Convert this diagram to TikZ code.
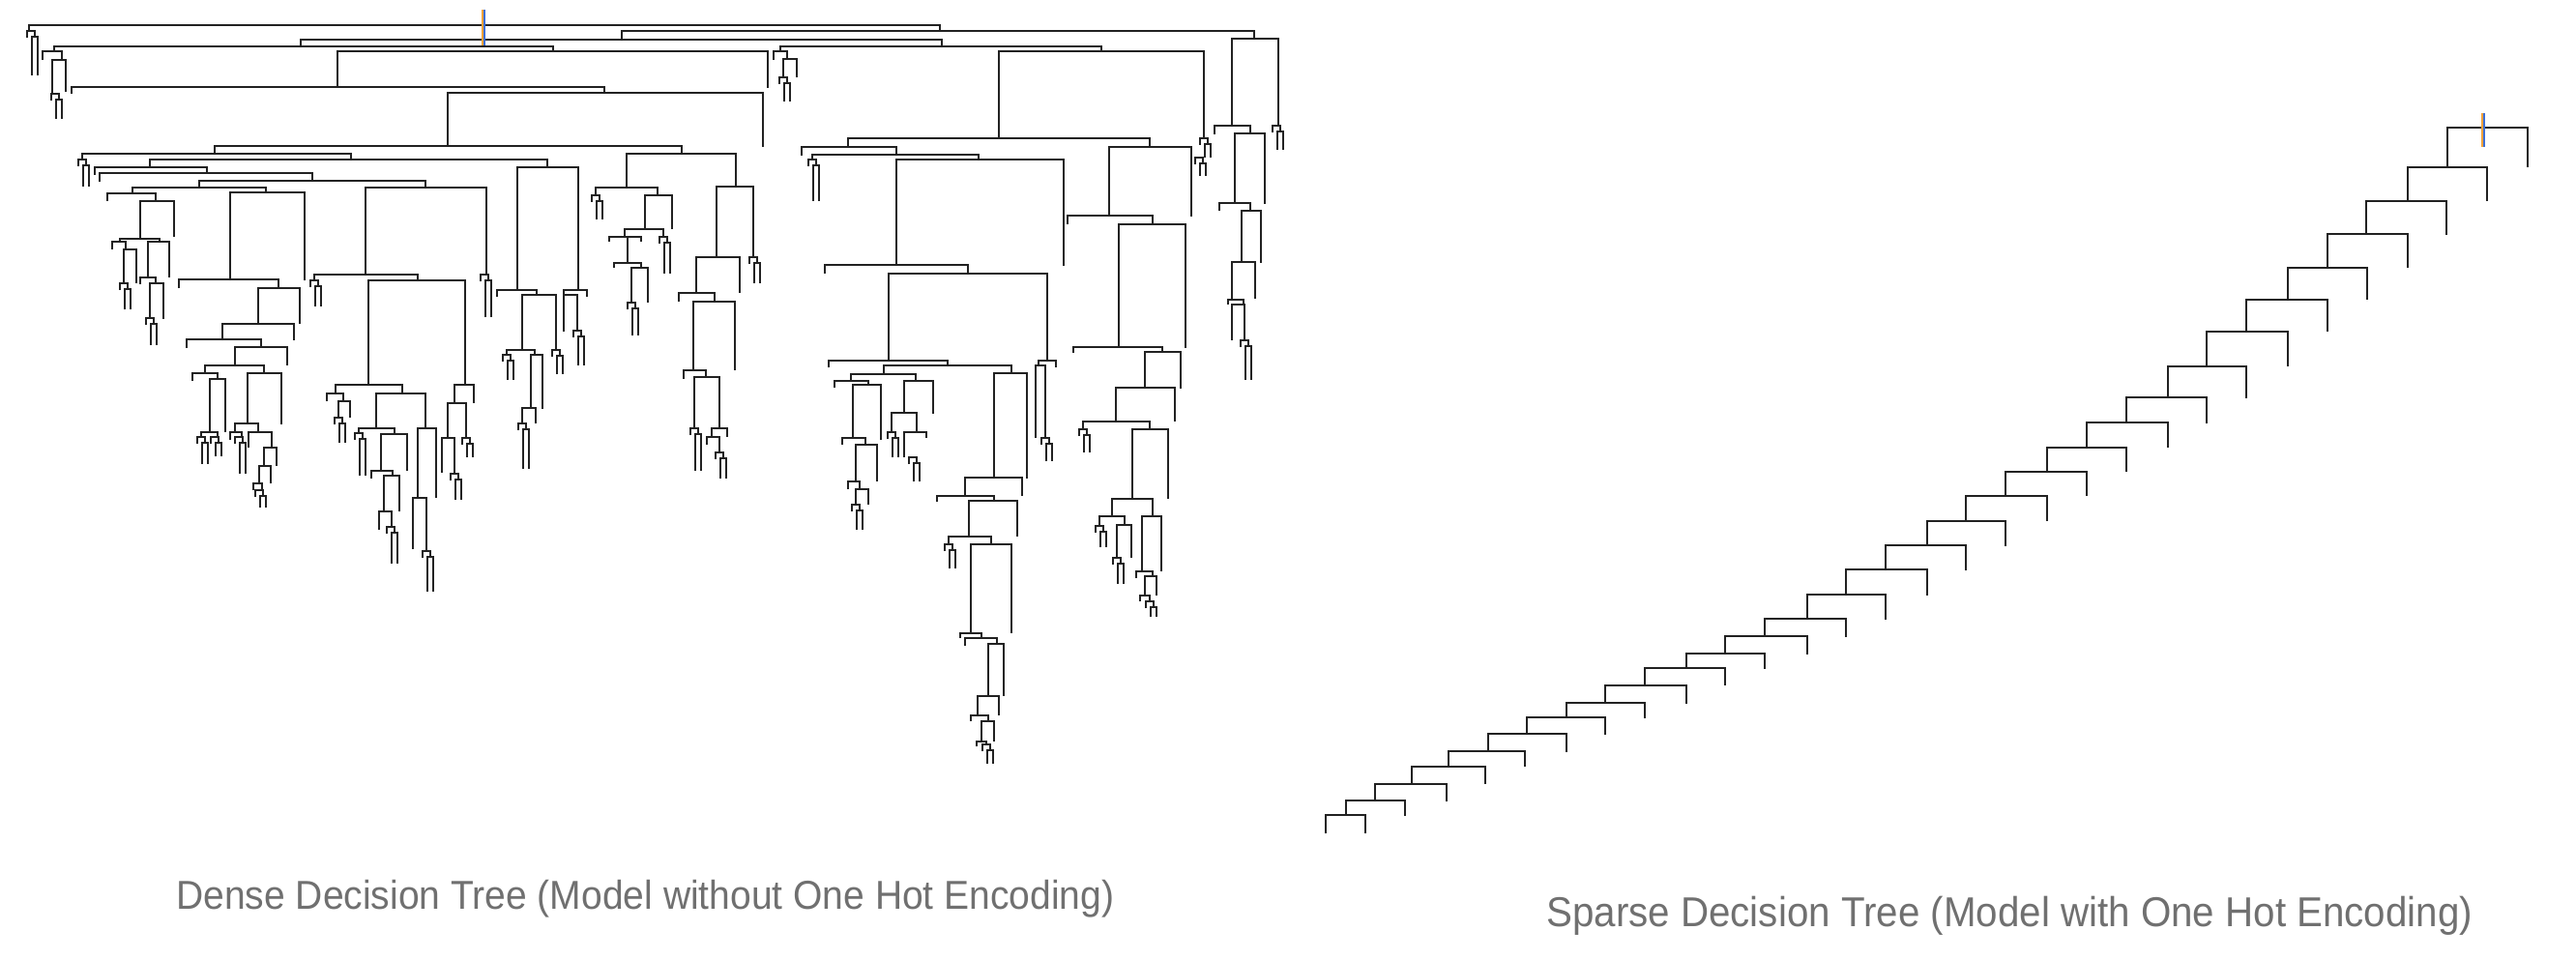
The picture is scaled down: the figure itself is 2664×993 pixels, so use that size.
\documentclass[tikz,border=0pt]{standalone}
\usepackage{fontspec}
\usepackage{graphicx}
\setmainfont{Liberation Sans}
\definecolor{grigio}{HTML}{707070}
\definecolor{tratto}{HTML}{222222}
\definecolor{arancio}{HTML}{F2A33A}
\definecolor{azzurro}{HTML}{3B6FD6}

% staffa: xsinistra, xdestra, y barra, fondo gamba sx, fondo gamba dx
\newcommand{\brk}[5]{\draw[ramo] (#1,#4) |- (#2,#3) -- (#2,#5);}
% forchetta piccola
\newcommand{\twig}[3]{\draw[ramo] (#1-4,#2+7) |- (#1+4,#2) -- (#1+4,#2+6);
  \draw[ramo] (#1+1,#3) |- (#1+7,#2+6) -- (#1+7,#3);}

\tikzset{ramo/.style={draw=tratto, line width=1.55pt},
  radice/.style={line width=1pt},
  didascalia/.style={text=grigio, inner sep=0pt, anchor=base west}}

\begin{document}
\begin{tikzpicture}[x=0.02cm, y=-0.02cm]
    \useasboundingbox (0,0) rectangle (2664,993);

    % albero denso: livelli alti
    \brk{30}{972}{26}{32}{32}
    \brk{643}{1297}{32}{41}{40}
    \brk{311}{974}{41}{48}{48}
    \brk{56}{572}{48}{53}{53}
    \brk{349}{794}{53}{90}{91}
    \brk{807}{1139}{48}{53}{53}
    \brk{1033}{1245}{53}{143}{143}
    \brk{74}{625}{90}{97}{96}
    \brk{463}{789}{96}{151}{152}
    \brk{222}{705}{151}{159}{159}

    % angolo sinistro
    \twig{32}{32}{78}
    \brk{44}{64}{53}{62}{62}
    \brk{54}{68}{62}{97}{95}
    \twig{57}{97}{123}

    % ramo sinistro
    \brk{85}{363}{159}{165}{165}
    \twig{85}{165}{193}
    \brk{155}{566}{165}{173}{173}
    \brk{98}{214}{173}{181}{179}
    \brk{103}{323}{179}{188}{187}
    \brk{206}{440}{187}{194}{194}
    \brk{137}{275}{194}{200}{199}
    \brk{111}{161}{200}{208}{208}
    \brk{145}{180}{208}{247}{245}
    \brk{124}{165}{247}{250}{250}
    \brk{116}{130}{250}{258}{258}
    \brk{128}{141}{258}{293}{293}
    \twig{128}{293}{320}
    \brk{153}{175}{250}{287}{287}
    \brk{145}{161}{287}{294}{293}
    \brk{155}{169}{293}{329}{330}
    \twig{155}{329}{357}

    \brk{238}{315}{199}{289}{290}
    \brk{185}{288}{289}{298}{298}
    \brk{267}{310}{298}{335}{335}
    \brk{230}{304}{335}{351}{352}
    \brk{193}{270}{351}{360}{359}
    \brk{243}{297}{359}{378}{378}
    \brk{212}{273}{378}{386}{386}
    \brk{199}{225}{386}{394}{392}
    \brk{217}{233}{392}{447}{447}
    \brk{208}{225}{447}{452}{452}
    \twig{208}{452}{480}
    \twig{222}{452}{472}
    \brk{256}{291}{386}{438}{439}
    \brk{243}{267}{438}{447}{447}
    \brk{238}{250}{447}{455}{452}
    \twig{247}{452}{490}
    \brk{257}{281}{447}{463}{463}
    \brk{273}{286}{463}{482}{482}
    \brk{268}{280}{482}{500}{500}
    \brk{262}{271}{500}{507}{507}
    \twig{268}{507}{525}

    \brk{378}{503}{194}{284}{284}
    \twig{501}{284}{328}
    \brk{325}{432}{284}{290}{290}
    \twig{325}{290}{317}
    \brk{381}{481}{290}{398}{398}
    \brk{347}{416}{398}{407}{407}
    \brk{338}{355}{407}{415}{415}
    \brk{350}{362}{415}{432}{432}
    \twig{350}{432}{458}
    \brk{389}{440}{407}{443}{443}
    \brk{371}{408}{443}{448}{449}
    \twig{371}{448}{492}
    \brk{394}{421}{449}{487}{487}
    \brk{384}{406}{487}{495}{492}
    \brk{397}{413}{492}{529}{529}
    \brk{392}{405}{529}{548}{545}
    \twig{404}{545}{583}
    \brk{432}{451}{443}{515}{515}
    \brk{427}{441}{515}{568}{570}
    \twig{441}{570}{612}
    \brk{470}{490}{398}{417}{417}
    \brk{463}{482}{417}{453}{453}
    \brk{457}{470}{453}{489}{490}
    \twig{470}{490}{517}
    \twig{482}{453}{473}

    \brk{535}{598}{173}{300}{300}
    \brk{514}{555}{300}{307}{305}
    \brk{540}{575}{305}{362}{362}
    \brk{524}{553}{362}{367}{367}
    \twig{524}{367}{393}
    \brk{549}{561}{367}{422}{423}
    \brk{540}{554}{422}{438}{438}
    \twig{540}{438}{485}
    \twig{575}{362}{387}
    \brk{583}{607}{300}{305}{307}
    \brk{583}{597}{305}{343}{342}
    \twig{597}{342}{378}

    % centro
    \brk{648}{761}{159}{194}{193}
    \brk{616}{680}{194}{202}{202}
    \twig{616}{202}{227}
    \brk{667}{695}{202}{237}{237}
    \brk{646}{686}{237}{245}{245}
    \brk{630}{663}{245}{250}{250}
    \draw[ramo] (649,245) -- (649,272);
    \brk{635}{663}{272}{277}{277}
    \brk{653}{670}{277}{313}{313}
    \twig{653}{313}{347}
    \twig{686}{245}{283}

    \brk{741}{779}{193}{266}{266}
    \twig{779}{266}{293}
    \brk{720}{765}{266}{303}{303}
    \brk{702}{739}{303}{312}{312}
    \brk{717}{760}{312}{383}{383}
    \brk{707}{730}{383}{392}{390}
    \brk{718}{744}{390}{443}{443}
    \twig{718}{443}{487}
    \brk{736}{752}{443}{452}{452}
    \brk{731}{744}{452}{460}{468}
    \twig{744}{468}{495}

    \brk{800}{814}{53}{62}{61}
    \brk{810}{824}{61}{80}{80}
    \twig{810}{80}{105}

    % ramo destro
    \twig{1245}{143}{163}
    \twig{1240}{163}{182}
    \brk{877}{1189}{143}{152}{152}
    \brk{829}{927}{152}{161}{160}
    \brk{840}{1012}{160}{165}{165}
    \twig{840}{165}{208}
    \brk{927}{1100}{165}{274}{275}
    \brk{853}{1001}{274}{283}{283}
    \brk{919}{1083}{283}{373}{373}
    \brk{1074}{1092}{373}{378}{380}
    \brk{1071}{1081}{378}{453}{453}
    \twig{1081}{453}{477}
    \brk{857}{980}{373}{380}{378}
    \brk{914}{1046}{378}{387}{386}
    \brk{880}{947}{387}{394}{394}
    \brk{863}{898}{394}{401}{398}
    \brk{882}{911}{398}{453}{455}
    \brk{871}{895}{453}{460}{460}
    \brk{885}{907}{460}{498}{498}
    \brk{877}{889}{498}{506}{506}
    \brk{885}{898}{506}{522}{522}
    \twig{885}{522}{548}
    \brk{935}{965}{394}{427}{428}
    \brk{922}{948}{427}{447}{447}
    \twig{922}{447}{473}
    \brk{935}{958}{447}{473}{453}
    \twig{944}{473}{498}

    \brk{1028}{1062}{386}{494}{495}
    \brk{998}{1057}{494}{513}{513}
    \brk{969}{1028}{513}{519}{518}
    \brk{1002}{1052}{518}{555}{555}
    \brk{981}{1025}{555}{563}{563}
    \twig{981}{563}{588}
    \brk{1004}{1046}{563}{655}{655}
    \brk{993}{1015}{655}{660}{660}
    \brk{998}{1031}{660}{668}{666}
    \brk{1022}{1038}{666}{720}{720}
    \brk{1011}{1033}{720}{740}{740}
    \brk{1004}{1022}{740}{746}{746}
    \brk{1015}{1028}{746}{767}{767}
    \brk{1010}{1020}{767}{772}{770}
    \twig{1020}{770}{790}

    \brk{1147}{1232}{152}{223}{224}
    \brk{1104}{1192}{223}{232}{232}
    \brk{1157}{1226}{232}{359}{360}
    \brk{1110}{1202}{359}{365}{364}
    \brk{1184}{1221}{364}{401}{402}
    \brk{1154}{1215}{401}{436}{436}
    \brk{1120}{1189}{436}{444}{444}
    \twig{1120}{444}{468}
    \brk{1171}{1208}{444}{516}{516}
    \brk{1150}{1192}{516}{534}{534}
    \brk{1137}{1163}{534}{544}{543}
    \twig{1137}{544}{566}
    \brk{1155}{1170}{543}{577}{577}
    \twig{1155}{577}{604}
    \brk{1181}{1201}{534}{591}{591}
    \brk{1175}{1192}{591}{598}{596}
    \brk{1184}{1196}{596}{616}{616}
    \brk{1179}{1189}{616}{622}{622}
    \twig{1189}{622}{638}

    % colonna a destra
    \brk{1274}{1322}{40}{130}{130}
    \twig{1320}{130}{155}
    \brk{1256}{1293}{130}{139}{138}
    \brk{1277}{1308}{138}{210}{211}
    \brk{1261}{1293}{210}{218}{218}
    \brk{1284}{1304}{218}{271}{272}
    \brk{1274}{1298}{271}{310}{309}
    \brk{1270}{1286}{310}{315}{315}
    \brk{1274}{1287}{315}{352}{352}
    \twig{1287}{352}{393}

    % radice albero denso
    \draw[radice, arancio] (498.8,10) -- (498.8,47);
    \draw[radice, azzurro] (501.2,10) -- (501.2,47);

    % albero sparso: scala
    \foreach \l/\r/\y/\f/\b in {2531/2614/132/173/173, 2490/2572/173/208/208,
        2447/2530/208/242/243, 2407/2490/242/277/277, 2366/2448/277/310/310,
        2323/2407/310/343/343, 2282/2366/343/379/379, 2242/2323/379/411/412,
        2199/2282/411/437/438, 2158/2242/437/463/463, 2117/2199/463/488/488,
        2074/2158/488/513/513, 2033/2117/513/539/539, 1993/2074/539/564/565,
        1950/2033/564/589/590, 1909/1993/589/615/616, 1869/1950/615/640/641,
        1825/1909/640/658/659, 1784/1869/658/676/677, 1744/1825/676/691/692,
        1701/1784/691/709/709, 1660/1744/709/727/728, 1620/1701/727/742/743,
        1579/1660/742/759/760, 1539/1620/759/777/778, 1498/1577/777/793/793,
        1460/1536/793/811/811, 1422/1496/811/828/829, 1392/1453/828/843/844,
        1371/1412/843/862/862}
      \draw[ramo] (\l,\f) |- (\r,\y) -- (\r,\b);

    % radice albero sparso
    \draw[radice, arancio] (2566.8,117) -- (2566.8,152);
    \draw[radice, azzurro] (2569.2,117) -- (2569.2,152);

    % didascalie
    \node[didascalia, font=\fontsize{23.75pt}{28pt}\selectfont] (denso) at (182,940)
      {\scalebox{0.935}[1]{Dense Decision Tree (Model without One Hot Encoding)}};
    \node[didascalia, font=\fontsize{24.6pt}{29pt}\selectfont] (sparso) at (1599,958)
      {\scalebox{0.933}[1]{Sparse Decision Tree (Model with One Hot Encoding)}};

\end{tikzpicture}
\end{document}
